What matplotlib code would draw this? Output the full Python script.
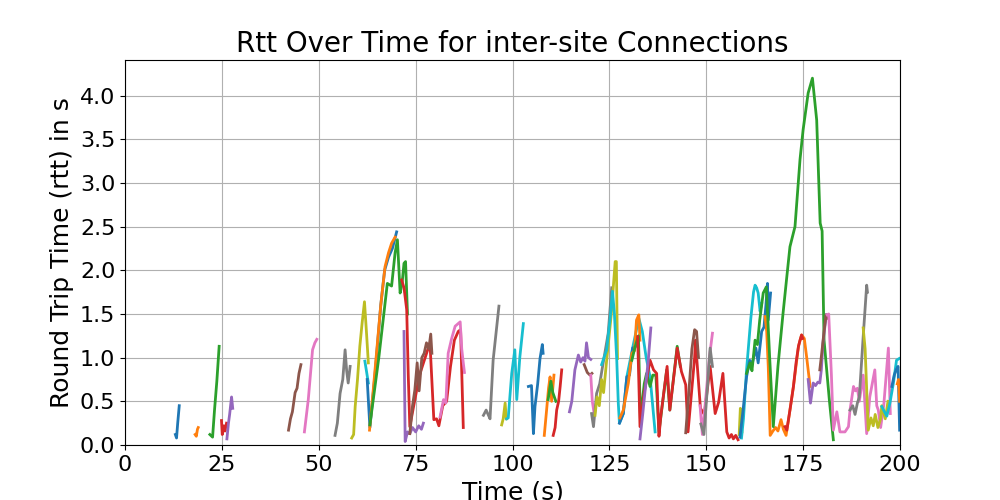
import matplotlib
matplotlib.use("Agg")
import matplotlib.pyplot as plt
from matplotlib.ticker import MultipleLocator

# one trace per connection, drawn in order with the default colour cycle
conn_time = [
    [13.0, 13.3, 13.6, 14.0],
    [18.1, 18.4, 18.7, 18.9],
    [21.9, 22.6, 23.1, 23.7, 24.3],
    [24.9, 25.1, 25.5, 25.8, 26.2],
    [26.3, 26.7, 27.0, 27.5, 27.8],
    [42.2, 42.7, 43.2, 43.9, 44.4, 44.9, 45.4],
    [46.3, 47.3, 48.4, 49.0, 49.5],
    [54.2, 54.8, 55.5, 56.2, 56.8, 57.2, 57.6, 58.1],
    [58.5, 59.0, 59.4, 60.0, 60.6, 61.2, 61.8, 62.3, 62.8],
    [61.9, 62.3, 62.8],
    [62.5, 63.2, 64.5, 66.0, 67.0, 68.0, 69.0, 70.1],
    [63.1, 64.0, 64.9, 66.0, 67.1, 68.0, 68.8, 69.7],
    [63.2, 65.5, 67.7, 68.8, 69.7, 70.3, 71.0, 71.5, 72.0, 72.4, 72.9],
    [71.4, 72.0, 72.7, 73.1, 73.5, 76.0, 78.7, 79.7, 80.4, 81.0, 82.0, 83.0, 84.0, 85.0, 86.0, 86.6, 87.3],
    [72.0, 72.3, 72.9, 73.5, 74.2, 75.0, 75.8, 76.5, 77.0],
    [73.5, 74.2, 74.8, 75.4, 75.9, 76.6, 77.2, 77.8, 78.4, 78.9, 79.2],
    [81.3, 82.2, 82.8, 83.4, 84.3, 85.2, 86.5, 86.9, 87.3, 87.6],
    [92.5, 93.2, 93.6, 94.2, 95.0, 96.5],
    [97.2, 97.6, 98.1, 98.4],
    [98.5, 98.9, 99.8, 100.6, 101.1, 101.9, 102.8],
    [104.1, 104.9, 105.4, 105.8, 106.5, 107.1, 107.7, 107.9],
    [108.2, 108.8, 109.3, 109.7, 110.1, 110.7],
    [109.2, 109.9, 110.4, 110.8, 111.2],
    [110.5, 111.0, 111.4, 111.9, 112.3, 112.7],
    [114.7, 115.3, 116.1, 117.0, 117.6, 118.2, 118.7, 119.1, 119.6, 120.2],
    [118.5, 119.3, 120.0, 120.5],
    [120.2, 120.6, 121.1],
    [120.4, 120.9, 121.7, 122.5, 123.4, 124.7, 125.6],
    [121.3, 121.8, 122.4, 123.0, 123.5, 124.3, 125.5, 126.5, 126.8, 127.1],
    [123.0, 124.3, 125.2, 125.8, 126.3, 126.9, 127.3, 127.6, 128.6, 129.5, 131.0, 132.6, 133.5, 134.5, 135.5, 136.8],
    [127.6, 128.6, 129.5, 130.2, 131.0, 131.8],
    [127.7, 128.6, 129.9, 130.8, 131.5, 132.0, 132.6, 132.9],
    [130.8, 131.5, 132.5, 133.0, 134.0, 134.6, 135.5, 136.2, 137.0, 137.8, 138.5, 139.8, 140.6, 142.5, 143.3],
    [132.3, 132.9, 134.0, 135.5, 136.4, 137.2, 137.8, 138.3, 139.9, 140.6, 142.5, 143.6, 144.7, 145.3, 147.0, 147.2,
     148.5, 149.5, 151.0, 152.3, 153.2, 154.3, 155.3, 155.9, 156.5, 157.0, 157.6, 158.2],
    [132.9, 133.6, 134.4, 135.0, 135.7],
    [144.7, 145.5, 146.3, 147.0, 147.5, 148.0],
    [148.4, 149.0, 150.0, 150.8, 151.6],
    [148.6, 149.4, 150.2, 151.0, 151.6],
    [158.5, 158.8, 159.2],
    [159.1, 159.6, 160.4, 161.5, 162.2, 162.6, 163.0, 163.4, 163.9, 164.3],
    [158.7, 159.5, 160.4, 161.2, 161.8, 162.8, 163.4, 164.3, 164.9, 165.4, 165.8, 166.0, 166.6],
    [165.2, 165.6, 166.0, 166.5, 167.2, 167.9, 168.5, 169.3, 169.9, 170.6, 171.6, 172.5, 173.8, 174.6, 175.3, 175.9, 176.8],
    [160.4, 161.3, 161.8, 162.6, 163.2, 163.8, 164.7, 165.5, 166.4, 167.3, 168.5, 169.8, 170.8, 171.6, 172.9, 174.2,
     175.0, 176.3, 177.4, 178.5, 179.4, 179.9, 180.4, 181.0, 181.8, 182.8],
    [170.3, 170.8, 171.6, 172.5, 173.2, 173.8, 174.2, 174.6, 174.9],
    [176.3, 176.9, 177.6, 178.2, 178.8, 179.3, 179.7, 180.1, 180.6, 181.0],
    [179.3, 179.8, 180.4, 180.9, 181.2],
    [181.2, 181.6, 182.3, 182.8, 183.7, 184.5, 185.8, 186.7, 187.1, 188.0, 188.5, 189.0, 189.5, 190.5, 191.4, 192.2,
     193.5, 194.0, 194.4, 195.0, 195.8, 197.0, 197.5],
    [187.1, 187.8, 188.4, 189.0, 189.5, 190.5, 191.4, 191.6],
    [190.5, 191.0, 191.8, 192.5, 193.1, 193.6, 194.3, 195.0, 195.3, 196.2, 196.9],
    [195.3, 196.0, 196.6, 197.4, 198.3, 199.1, 199.8],
    [197.9, 198.5, 199.0, 199.5, 199.9],
    [199.3, 199.6, 199.9],
]
conn_rtt = [
    [0.12, 0.08, 0.25, 0.45],
    [0.12, 0.10, 0.18, 0.20],
    [0.12, 0.09, 0.40, 0.73, 1.13],
    [0.28, 0.12, 0.22, 0.16, 0.25],
    [0.07, 0.25, 0.35, 0.55, 0.42],
    [0.17, 0.30, 0.38, 0.60, 0.65, 0.82, 0.92],
    [0.15, 0.52, 1.09, 1.17, 1.21],
    [0.11, 0.25, 0.59, 0.75, 1.09, 0.85, 0.71, 0.90],
    [0.08, 0.12, 0.44, 0.75, 1.13, 1.40, 1.64, 1.30, 0.94],
    [0.96, 0.85, 0.71],
    [0.75, 0.20, 0.80, 1.60, 2.00, 2.15, 2.25, 2.44],
    [0.17, 0.60, 1.05, 1.60, 2.04, 2.20, 2.31, 2.38],
    [0.23, 1.00, 1.85, 1.82, 2.20, 2.35, 1.74, 1.85, 2.08, 2.10, 1.50],
    [1.89, 1.80, 1.55, 0.80, 0.21, 0.80, 1.17, 0.29, 0.30, 0.22, 0.45, 0.50, 0.90, 1.20, 1.30, 1.32, 0.20],
    [1.30, 0.04, 0.15, 0.13, 0.20, 0.15, 0.22, 0.18, 0.25],
    [0.13, 0.45, 0.63, 0.94, 0.62, 1.00, 1.05, 1.17, 1.10, 1.27, 1.05],
    [0.32, 0.52, 0.48, 1.05, 1.22, 1.36, 1.41, 1.10, 0.94, 0.83],
    [0.34, 0.40, 0.36, 0.30, 0.97, 1.59],
    [0.23, 0.30, 0.48, 0.30],
    [0.30, 0.31, 0.82, 1.09, 0.52, 1.01, 1.39],
    [0.67, 0.68, 0.13, 0.44, 0.70, 0.99, 1.15, 1.05],
    [0.11, 0.40, 0.65, 0.78, 0.50, 0.80],
    [0.52, 0.73, 0.60, 0.55, 0.50],
    [0.11, 0.20, 0.40, 0.50, 0.67, 0.86],
    [0.38, 0.50, 0.86, 1.03, 0.95, 1.00, 0.96, 1.17, 1.00, 0.98],
    [0.92, 0.83, 0.80, 0.82],
    [0.80, 0.50, 0.35],
    [0.36, 0.21, 0.59, 0.70, 0.94, 1.28, 1.80],
    [0.34, 0.55, 0.45, 0.75, 0.60, 0.97, 1.50, 2.10, 2.10, 0.99],
    [0.92, 1.09, 1.45, 1.76, 1.50, 0.98, 0.48, 0.25, 0.36, 0.78, 1.11, 1.45, 1.30, 1.00, 0.78, 0.15],
    [0.25, 0.36, 0.78, 0.80, 1.11, 1.13],
    [0.31, 0.40, 0.71, 1.05, 1.08, 1.43, 1.49, 1.20],
    [0.97, 1.10, 1.25, 0.30, 0.70, 0.82, 0.67, 0.80, 0.80, 0.15, 0.40, 0.86, 0.40, 1.13, 0.90],
    [1.24, 0.21, 0.60, 0.97, 0.86, 0.82, 0.10, 0.34, 0.90, 0.40, 1.11, 0.84, 0.69, 0.15, 1.00, 1.20,
     0.42, 0.35, 0.90, 0.36, 0.49, 0.82, 0.15, 0.08, 0.12, 0.07, 0.11, 0.06],
    [0.07, 0.35, 0.70, 0.95, 1.34],
    [0.14, 0.60, 1.10, 1.32, 1.30, 1.00],
    [0.45, 0.12, 0.60, 1.00, 1.28],
    [0.24, 0.12, 0.60, 1.11, 0.90],
    [0.12, 0.42, 0.15],
    [0.08, 0.30, 0.86, 1.45, 1.75, 1.83, 1.80, 1.74, 1.53, 1.62],
    [0.09, 0.40, 0.78, 0.97, 0.92, 1.11, 0.94, 1.30, 1.35, 1.60, 1.85, 1.43, 1.74],
    [1.47, 1.30, 0.90, 0.11, 0.16, 0.20, 0.16, 0.29, 0.18, 0.11, 0.40, 0.67, 1.13, 1.26, 1.22, 1.01, 0.67],
    [0.82, 0.94, 0.85, 1.20, 1.15, 1.43, 1.74, 1.81, 0.97, 0.21, 0.90, 1.50, 1.93, 2.27, 2.50, 3.27,
     3.61, 4.03, 4.20, 3.72, 2.54, 2.45, 1.20, 0.90, 0.50, 0.06],
    [0.21, 0.17, 0.40, 0.67, 0.95, 1.13, 1.20, 1.26, 1.22],
    [0.75, 0.48, 0.71, 0.68, 0.72, 0.71, 0.86, 1.16, 1.35, 1.49],
    [0.86, 1.05, 1.30, 1.49, 1.45],
    [1.49, 1.50, 0.80, 0.17, 0.38, 0.15, 0.15, 0.21, 0.40, 0.67, 0.62, 0.65, 0.50, 0.80, 0.13, 0.55,
     0.86, 0.45, 0.40, 0.20, 0.45, 1.11, 0.36],
    [0.40, 0.45, 0.35, 0.48, 0.55, 1.24, 1.83, 1.75],
    [1.34, 1.10, 0.17, 0.31, 0.22, 0.35, 0.20, 0.30, 0.45, 0.30, 0.50],
    [0.44, 0.38, 0.33, 0.48, 0.71, 0.97, 0.99],
    [0.67, 0.80, 0.86, 0.90, 0.17],
    [0.70, 0.75, 0.50],
]

fig, ax = plt.subplots(figsize=(10, 5), dpi=100)
for t, r in zip(conn_time, conn_rtt):
    ax.plot(t, r, linewidth=2)

ax.set_xlim(0, 200)
ax.set_ylim(bottom=0)
ax.yaxis.set_major_locator(MultipleLocator(0.5))
ax.set_title('Rtt Over Time for inter-site Connections', fontsize=20)
ax.set_xlabel('Time (s)', fontsize=18)
ax.set_ylabel('Round Trip Time (rtt) in s', fontsize=18)
ax.tick_params(labelsize=16)
ax.grid(True)

fig.savefig('out.png')
